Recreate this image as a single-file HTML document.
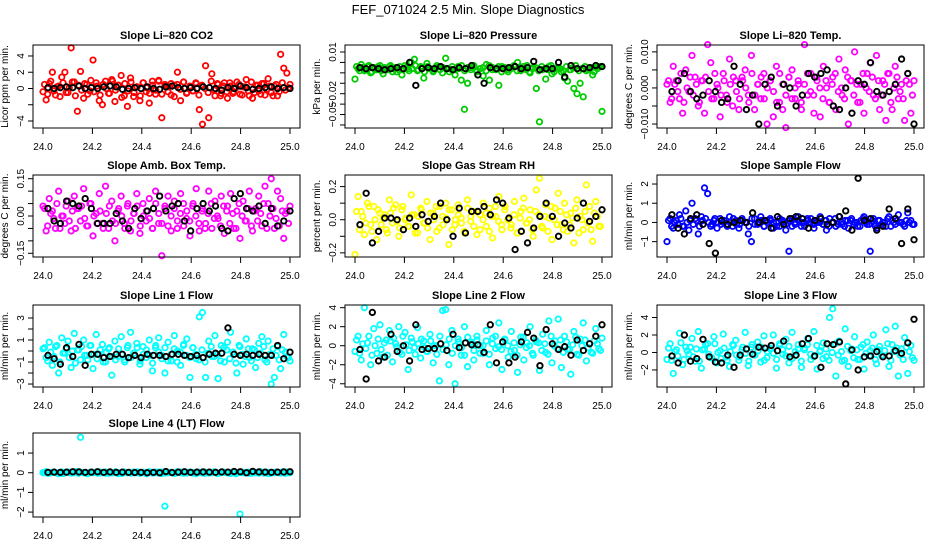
<!DOCTYPE html>
<html><head><meta charset="utf-8"><style>
body{margin:0;background:#fff;}
svg{display:block;font-family:"Liberation Sans",sans-serif;}
</style></head><body>
<svg id="chart" width="936" height="540" viewBox="0 0 936 540">
<rect width="936" height="540" fill="#fff"/>
<text x="468" y="14" text-anchor="middle" font-size="13">FEF_071024  2.5 Min. Slope Diagnostics</text>
</svg>
<script>
const xTickValues = [24.0, 24.2, 24.4, 24.6, 24.8, 25.0];
const xTickLabels = ["24.0", "24.2", "24.4", "24.6", "24.8", "25.0"];

const co2Color = [-0.4,-1.4,0.6,2.0,-0.8,0.3,1.4,2.0,-0.5,5.0,0.8,-2.8,2.1,-1.2,0.5,-0.3,3.5,0.7,-1.5,-2.0,0.9,-0.6,1.1,-1.6,0.4,1.6,-0.9,-2.2,1.3,-1.0,0.2,-1.5,0.7,-0.4,-1.8,0.9,-0.7,1.0,-3.6,0.5,0.2,-0.8,0.4,2.0,-1.5,0.8,-0.5,0.3,-0.3,0.6,-2.6,-4.4,2.8,-3.6,1.8,-0.9,0.5,-0.6,0.7,-1.2,0.3,-0.4,0.8,-0.7,0.2,1.1,-0.9,-1.2,0.4,-0.3,0.6,-0.8,1.2,-0.5,0.3,-0.9,4.2,2.5,1.9,0.5];
const co2Band = [0.5,-0.7,0.9,-0.3,0.2,-1.0,0.7,-0.5,0.1,0.8,-0.9,0.4,-0.2,0.6,-0.7,1.0,-0.4,0.3,-0.8,0.5,0.0,-0.6,0.9,-0.2,0.4,-1.1,0.6,-0.3,0.8,-0.5,0.2,-0.9,0.7,0.1,-0.6,0.4,-0.2,0.9,-0.7,0.3,-0.4,0.6,-1.0,0.5,-0.1,0.8,-0.6,0.2,-0.3,0.7,-0.8,0.4,0.0,-0.5,0.9,-0.2,0.6,-0.9,0.3,-0.4,0.7,-0.6,0.1,0.5,-0.8,0.2,-0.3,0.8,-0.5,0.4,-0.7,0.6,-0.1,0.3,-0.9,0.5,-0.4,0.7,-0.2,0.1];
const co2Black = [0.1,0.0,0.1,0.2,0.1,0.3,0.0,0.1,0.0,0.2,0.3,0.2,-0.1,0.0,0.1,0.0,0.2,0.0,-0.1,0.2,0.3,0.1,0.0,0.1,0.0,0.2,0.1,0.0,-0.2,0.1,0.0,0.3,0.1,-0.1,0.0,0.1,0.2,0.0,0.1,0.0];

const presColor = [-0.016,-0.006,-0.002,-0.008,-0.004,-0.010,-0.005,-0.007,-0.003,-0.011,-0.006,-0.004,-0.009,-0.005,-0.007,-0.012,-0.003,-0.006,0.000,0.003,-0.008,-0.004,-0.015,-0.001,-0.006,-0.009,-0.005,-0.004,-0.010,0.004,-0.006,-0.007,-0.012,-0.004,-0.017,-0.045,-0.020,-0.005,-0.003,-0.008,-0.006,-0.013,-0.002,-0.017,-0.005,-0.007,-0.022,-0.004,-0.006,-0.009,-0.005,-0.004,0.000,-0.008,-0.006,-0.003,-0.010,-0.005,-0.025,-0.057,-0.007,-0.016,-0.004,-0.011,-0.006,-0.005,-0.009,-0.015,-0.018,-0.007,-0.025,-0.030,-0.020,-0.033,-0.008,-0.006,-0.012,-0.005,-0.004,-0.047];
const presBand = [-0.004,-0.008,-0.005,-0.007,-0.003,-0.009,-0.006,-0.004,-0.008,-0.005,-0.007,-0.003,-0.006,-0.009,-0.004,-0.007,-0.005,-0.008,-0.006,-0.003,-0.007,-0.005,-0.009,-0.004,-0.006,-0.008,-0.003,-0.007,-0.005,-0.006,-0.009,-0.004,-0.007,-0.006,-0.003,-0.008,-0.005,-0.007,-0.004,-0.009,-0.006,-0.005,-0.008,-0.003,-0.007,-0.006,-0.004,-0.009,-0.005,-0.007,-0.006,-0.003,-0.008,-0.005,-0.004,-0.007,-0.009,-0.006,-0.005,-0.008,-0.004,-0.006,-0.007,-0.003,-0.009,-0.005,-0.006,-0.008,-0.004,-0.007,-0.005,-0.003,-0.008,-0.006,-0.004,-0.007,-0.005,-0.009,-0.006,-0.004];
const presBlack = [-0.005,-0.006,-0.005,-0.006,-0.007,-0.006,-0.005,-0.006,0.000,-0.022,-0.006,-0.005,-0.006,-0.004,-0.006,-0.007,-0.005,-0.006,-0.003,-0.012,-0.020,-0.005,-0.006,-0.006,-0.005,-0.004,-0.006,-0.005,0.001,-0.007,-0.006,-0.006,0.000,-0.014,-0.003,-0.006,-0.006,-0.005,-0.003,-0.004];

const tempColor = [0.001,-0.004,0.006,0.002,-0.003,-0.007,0.005,-0.001,0.009,0.003,-0.005,0.002,-0.007,0.012,0.007,-0.003,0.001,-0.008,0.004,-0.002,0.008,-0.005,0.002,-0.006,0.003,0.005,-0.002,0.009,-0.006,0.001,-0.003,0.004,-0.010,0.002,-0.008,0.006,-0.004,-0.006,-0.011,0.003,0.005,-0.003,0.001,-0.006,0.012,-0.002,0.004,-0.007,0.002,-0.008,0.006,0.000,-0.004,0.003,-0.006,0.008,-0.002,0.005,-0.010,0.002,0.010,-0.004,0.001,-0.007,0.004,0.007,-0.002,0.009,-0.006,0.002,-0.009,0.004,-0.006,0.006,-0.003,0.001,-0.009,0.004,-0.007,0.002];
const tempBand = [0.002,-0.003,0.001,-0.001,0.004,-0.004,0.000,0.003,-0.002,0.001,-0.004,0.002,0.003,-0.001,-0.003,0.004,0.000,-0.002,0.002,-0.004,0.001,0.003,-0.001,-0.003,0.002,0.000,-0.004,0.004,-0.002,0.001,0.003,-0.003,0.000,0.002,-0.001,-0.004,0.004,0.001,-0.002,0.003,-0.003,0.000,0.002,-0.004,0.001,0.004,-0.001,-0.002,0.003,0.000,-0.003,0.002,-0.004,0.001,0.004,-0.001,0.000,-0.003,0.003,0.002,-0.002,0.001,-0.004,0.004,0.000,-0.001,0.003,-0.003,0.002,-0.002,0.001,0.004,-0.004,0.000,0.003,-0.001,-0.003,0.002,0.001,-0.002];
const tempBlack = [-0.001,0.002,0.004,-0.001,-0.003,-0.002,0.002,-0.001,-0.004,-0.003,0.006,0.001,-0.006,-0.002,-0.010,0.001,0.003,-0.005,0.001,0.000,-0.005,-0.002,0.004,0.003,0.004,0.005,-0.005,-0.006,0.000,-0.007,0.002,0.001,0.007,-0.001,-0.002,-0.001,0.001,0.008,0.004,-0.010];

const boxColor = [0.04,-0.06,0.07,0.02,-0.05,0.10,0.00,-0.03,0.06,-0.06,0.08,0.03,-0.02,0.11,-0.04,0.05,-0.08,0.01,0.09,-0.03,0.12,-0.05,0.06,-0.10,0.02,0.08,-0.03,0.04,-0.06,0.01,0.09,-0.07,0.05,-0.02,0.07,-0.05,0.10,-0.03,-0.16,0.03,0.08,-0.06,0.06,-0.02,0.09,-0.04,0.02,-0.08,0.05,0.11,-0.06,0.03,-0.03,0.10,-0.05,0.06,-0.01,0.08,-0.07,0.04,0.09,-0.05,0.02,-0.09,0.06,-0.02,0.10,-0.06,0.03,0.08,-0.04,0.12,0.05,0.15,-0.05,0.10,0.07,-0.09,0.02,0.04];
const boxBand = [0.03,-0.04,0.01,-0.01,0.05,-0.05,0.00,0.04,-0.02,0.02,-0.05,0.03,0.04,-0.01,-0.04,0.05,0.00,-0.03,0.02,-0.05,0.01,0.04,-0.02,-0.03,0.03,0.00,-0.05,0.05,-0.02,0.01,0.04,-0.04,0.00,0.02,-0.01,-0.05,0.05,0.01,-0.03,0.04,-0.04,0.00,0.03,-0.05,0.01,0.05,-0.01,-0.02,0.04,0.00,-0.03,0.02,-0.05,0.01,0.05,-0.01,0.00,-0.04,0.04,0.02,-0.03,0.01,-0.05,0.05,0.00,-0.02,0.03,-0.04,0.02,-0.02,0.01,0.05,-0.05,0.00,0.03,-0.01,-0.04,0.02,0.01,-0.03];
const boxBlack = [0.03,-0.02,-0.03,0.06,0.05,0.04,0.07,0.03,-0.03,-0.03,-0.03,0.01,-0.02,-0.05,0.03,-0.01,0.02,0.03,0.08,0.02,0.04,0.05,-0.02,-0.06,0.03,0.05,0.02,0.04,-0.05,-0.06,0.07,0.09,0.03,0.02,0.04,-0.03,0.03,-0.04,-0.02,0.02];

const rhColor = [-0.21,0.14,0.05,-0.09,0.10,-0.03,0.08,-0.12,0.04,0.01,-0.06,0.12,-0.02,0.09,-0.10,0.06,0.00,-0.04,0.15,0.03,-0.08,0.07,-0.02,0.11,-0.12,0.04,0.08,-0.05,0.02,0.10,-0.15,0.06,-0.03,0.09,0.01,-0.07,0.12,-0.01,0.05,-0.09,0.03,0.10,-0.04,0.07,-0.11,0.02,0.14,-0.06,0.08,0.00,-0.03,0.11,-0.08,0.05,0.13,-0.02,0.06,-0.10,0.18,0.25,-0.05,0.09,0.01,-0.12,0.07,0.16,-0.03,0.10,-0.07,0.04,-0.14,0.12,0.02,-0.06,0.21,0.08,-0.13,0.11,-0.04,0.06];
const rhBand = [0.05,-0.06,0.02,-0.02,0.08,-0.07,0.00,0.06,-0.03,0.03,-0.08,0.04,0.07,-0.01,-0.05,0.08,0.01,-0.04,0.03,-0.08,0.02,0.06,-0.02,-0.05,0.04,0.00,-0.07,0.08,-0.03,0.01,0.06,-0.06,0.00,0.03,-0.02,-0.08,0.07,0.02,-0.04,0.05,-0.06,0.00,0.04,-0.07,0.02,0.08,-0.01,-0.03,0.06,0.00,-0.05,0.03,-0.08,0.01,0.07,-0.02,0.00,-0.06,0.05,0.03,-0.04,0.02,-0.07,0.08,0.00,-0.03,0.05,-0.06,0.03,-0.03,0.01,0.07,-0.08,0.00,0.05,-0.02,-0.06,0.04,0.02,-0.04];
const rhBlack = [-0.03,0.16,-0.14,-0.07,0.01,0.01,0.00,-0.06,0.01,-0.04,0.03,-0.01,0.02,0.10,0.00,-0.10,0.07,-0.08,0.05,0.05,0.08,0.03,0.12,0.10,0.01,-0.18,-0.07,-0.14,-0.05,0.02,0.10,0.02,-0.10,-0.02,-0.05,0.01,0.10,-0.01,0.02,0.06];

const sampColor = [-1.0,0.2,-0.3,0.1,0.4,-0.2,0.6,-0.4,1.0,0.2,-0.6,0.3,1.8,1.5,-0.2,0.1,-0.3,0.2,0.0,-0.1,0.3,-0.2,0.1,-0.3,0.2,0.0,-0.6,-1.0,0.2,-0.1,0.3,-0.2,0.1,0.2,-0.3,0.0,-0.2,0.1,-0.4,-1.5,0.2,-0.1,0.3,0.0,-0.2,0.1,0.2,-0.3,0.0,0.3,-0.1,-0.4,0.2,0.0,-0.2,0.3,-0.1,0.1,-0.3,0.2,0.0,-0.2,0.1,0.3,-0.1,-1.5,0.2,-0.3,0.1,0.0,-0.2,0.3,0.1,-0.1,0.4,0.0,-0.2,0.5,0.1,-0.1];
const sampBand = [0.1,-0.2,0.0,-0.1,0.2,-0.2,0.0,0.1,-0.1,0.1,-0.2,0.1,0.2,0.0,-0.1,0.2,0.0,-0.1,0.1,-0.2,0.0,0.2,-0.1,-0.1,0.1,0.0,-0.2,0.2,-0.1,0.0,0.1,-0.2,0.0,0.1,0.0,-0.2,0.2,0.0,-0.1,0.1,-0.2,0.0,0.1,-0.2,0.0,0.2,0.0,-0.1,0.1,0.0,-0.1,0.1,-0.2,0.0,0.2,-0.1,0.0,-0.2,0.1,0.1,-0.1,0.0,-0.2,0.2,0.0,-0.1,0.1,-0.2,0.1,-0.1,0.0,0.2,-0.2,0.0,0.1,0.0,-0.1,0.1,0.0,-0.1];
const sampBlack = [0.4,-0.3,-0.6,0.2,0.4,-0.1,-1.1,-1.6,0.1,-0.1,0.0,0.1,0.0,0.5,0.0,0.1,-0.3,0.3,-0.1,0.2,0.3,0.2,-0.3,0.1,0.2,-0.1,0.0,0.3,0.6,-0.4,2.3,0.1,0.2,-0.4,-0.2,0.7,0.2,-1.1,0.7,-0.9];

const l1Color = [0.2,-0.6,0.8,-1.3,0.4,-2.0,1.2,-0.2,0.9,-1.5,1.6,0.1,-0.8,1.0,-0.4,0.5,-1.6,1.5,-0.3,0.6,-1.0,0.2,-2.2,0.9,-0.5,1.3,-0.8,0.3,1.7,-0.2,0.7,-1.2,0.4,-0.6,1.0,-1.8,0.3,1.2,-0.4,-2.0,0.8,-0.9,1.4,0.0,-1.3,0.6,1.1,-2.4,0.3,-0.7,3.1,3.5,-2.4,0.9,-0.5,1.4,-2.5,0.5,-1.0,0.8,1.7,-0.3,-2.0,0.4,-1.2,1.1,-0.6,0.2,-1.5,0.7,1.3,-0.8,0.9,-3.0,-2.4,0.4,-1.6,1.5,-0.5,-0.9];
const l1Band = [0.3,-0.9,-0.1,-0.5,0.5,-1.0,-0.2,0.2,-0.6,0.0,-1.1,0.1,0.4,-0.4,-0.8,0.5,-0.3,-0.7,0.1,-1.0,-0.1,0.3,-0.5,-0.8,0.2,-0.3,-1.0,0.5,-0.6,-0.2,0.3,-0.9,-0.3,0.1,-0.4,-1.1,0.5,-0.1,-0.7,0.3,-0.9,-0.3,0.2,-1.0,-0.1,0.5,-0.4,-0.6,0.3,-0.3,-0.8,0.1,-1.0,-0.2,0.4,-0.5,-0.3,-0.9,0.3,0.1,-0.7,-0.1,-1.1,0.5,-0.3,-0.5,0.2,-0.9,0.1,-0.6,-0.2,0.4,-1.0,-0.3,0.2,-0.4,-0.8,0.1,-0.1,-0.6];
const l1Black = [-0.4,-0.7,-1.2,0.3,-0.5,0.6,-1.3,-0.3,-0.3,-0.6,-0.5,-0.3,-0.3,-0.6,-0.4,-0.6,-0.3,-0.4,-0.4,-0.5,-0.3,-0.3,-0.4,-0.5,-0.4,-0.6,-0.3,-0.2,-0.2,2.1,-0.3,-0.4,-0.3,-0.4,-0.3,-0.4,-0.4,0.5,-0.7,-0.1];

const l2Color = [-0.6,1.0,-1.5,4.0,0.3,-2.0,1.8,-0.8,2.2,-1.2,0.6,1.6,-1.7,0.2,2.0,-0.9,1.4,-2.5,0.8,-0.2,1.9,-1.3,0.5,-0.6,1.2,-1.8,0.0,-3.7,3.7,3.8,-2.0,1.6,-4.0,0.7,-1.0,2.0,-2.2,0.4,-1.5,1.0,0.0,-0.8,1.6,-2.0,0.8,-0.3,2.4,-2.5,0.6,-1.2,1.5,-0.5,-2.8,0.9,-1.5,0.3,2.0,-1.0,0.4,-2.6,1.2,-0.7,2.6,-1.8,0.5,2.8,-2.3,1.0,-0.4,-3.0,1.5,-0.9,0.7,2.4,-1.6,0.2,-0.8,1.8,-0.3,0.8];
const l2Band = [0.6,-0.8,0.2,-0.3,1.0,-1.0,0.0,0.7,-0.4,0.3,-1.0,0.5,0.8,-0.1,-0.7,1.0,0.1,-0.5,0.4,-0.9,0.2,0.7,-0.2,-0.6,0.5,0.0,-0.9,1.0,-0.4,0.1,0.7,-0.8,0.0,0.4,-0.2,-1.0,0.9,0.2,-0.5,0.6,-0.8,0.0,0.5,-0.9,0.2,1.0,-0.1,-0.4,0.7,0.0,-0.6,0.3,-1.0,0.1,0.9,-0.2,0.0,-0.8,0.6,0.3,-0.5,0.2,-0.9,1.0,0.0,-0.3,0.6,-0.7,0.4,-0.4,0.1,0.9,-1.0,0.0,0.6,-0.2,-0.7,0.5,0.2,-0.5];
const l2Black = [-0.4,-3.5,3.5,-1.6,-1.2,1.2,-0.6,0.0,-1.6,2.2,-0.4,-0.3,-0.3,0.2,-0.5,1.2,-0.2,0.3,0.1,0.1,-0.7,2.2,-1.8,0.4,-1.8,-1.2,0.4,1.4,0.8,-2.1,1.7,0.2,-0.4,-0.1,-1.0,0.6,-0.5,0.2,1.0,2.2];

const l3Color = [-0.8,1.0,-2.4,0.3,2.2,-1.4,0.6,-0.2,1.6,-1.0,2.4,-1.8,0.4,1.0,-0.6,1.8,-1.2,0.2,2.1,-0.5,-1.6,0.9,1.4,-0.9,0.3,2.3,-1.5,0.6,-0.3,1.2,-1.1,1.9,-0.6,0.4,2.0,-1.8,0.8,-0.2,1.5,-1.2,2.3,-0.4,0.9,-1.7,0.5,1.6,-0.8,2.4,-1.9,0.2,1.1,-0.5,4.0,5.0,-2.7,1.3,-1.0,2.7,-1.6,0.4,1.8,-0.8,0.6,-1.9,1.2,0.2,2.0,-1.3,0.7,-0.4,2.6,-1.6,0.9,3.0,-2.7,0.4,1.7,-2.4,0.8,-0.9];
const l3Band = [0.5,-0.9,0.1,-0.4,1.1,-0.8,0.2,0.6,-0.5,0.4,-1.0,0.3,0.9,-0.2,-0.6,1.0,0.0,-0.7,0.5,-0.9,0.1,0.8,-0.3,-0.5,0.6,-0.1,-1.0,0.9,-0.3,0.2,0.6,-0.9,0.1,0.5,-0.1,-0.8,1.0,0.3,-0.4,0.7,-0.7,0.1,0.4,-1.0,0.3,0.9,-0.2,-0.5,0.8,0.1,-0.7,0.4,-0.9,0.0,1.0,-0.3,0.1,-0.9,0.7,0.2,-0.6,0.3,-0.8,0.9,-0.1,-0.4,0.5,-0.8,0.3,-0.3,0.2,1.0,-0.9,0.1,0.5,-0.3,-0.8,0.6,0.1,-0.6];
const l3Black = [-0.4,-1.2,2.0,-1.0,-0.7,1.5,-0.5,-1.1,-1.2,-0.3,-1.7,-0.3,0.4,-0.2,0.6,0.5,0.8,0.2,1.3,-0.5,-0.3,1.0,1.6,-0.4,-1.7,1.0,0.9,1.2,-3.6,0.3,-2.0,-0.5,-0.4,0.1,-0.5,-0.4,0.2,-0.1,1.1,3.8];

const l4Color = [0.0,0.05,-0.03,0.02,0.0,-0.05,0.04,0.0,0.03,-0.02,0.0,0.05,1.8,0.0,-0.04,0.02,0.0,0.03,-0.02,0.0,0.04,-0.03,0.0,0.02,-0.05,0.0,0.03,0.0,-0.02,0.04,0.0,-0.03,0.02,0.0,0.05,-0.02,0.0,0.03,-0.04,-1.7,0.0,0.02,-0.03,0.0,0.04,0.0,-0.02,0.03,0.0,-0.05,0.02,0.0,0.03,-0.02,0.0,0.04,-0.03,0.0,0.02,0.0,-0.04,0.03,0.0,-2.1,0.02,0.0,-0.03,0.04,0.0,-0.02,0.03,0.0,-0.04,0.02,0.0,0.03,-0.02,0.0,0.04,0.0];
const l4Band = [0.02,-0.03,0.0,0.04,-0.02,0.01,-0.04,0.03,0.0,-0.01,0.05,-0.03,0.02,0.0,-0.05,0.03,0.01,-0.02,0.04,0.0,-0.03,0.02,-0.01,0.05,0.0,-0.04,0.03,0.01,-0.02,0.0,0.04,-0.03,0.02,-0.05,0.01,0.0,0.03,-0.02,0.04,-0.01,0.0,0.02,-0.04,0.05,0.0,-0.03,0.01,0.03,-0.02,0.0,0.04,-0.01,-0.03,0.02,0.0,0.05,-0.04,0.01,0.03,0.0,-0.02,0.04,-0.05,0.02,0.0,-0.01,0.03,-0.03,0.01,0.0,0.05,-0.02,0.02,-0.04,0.0,0.03,-0.01,0.04,-0.03,0.0];
const l4Black = [0.02,0.03,0.02,0.03,0.05,0.04,0.02,0.03,0.05,0.02,0.04,0.02,0.03,0.02,0.01,0.02,0.00,0.02,0.00,0.06,0.01,0.03,0.05,0.02,0.03,0.04,0.03,0.02,0.04,0.03,0.06,0.05,0.00,0.07,0.04,0.03,0.02,0.03,0.04,0.05];

const panels = [
 {name:"co2", col:0,row:0,title:"Slope Li\u2013820 CO2",ylab:"Licor ppm per min.",ymin:-4.86,ymax:5.35,ticks:[-4,-2,0,2,4],labs:["\u22124","","0","2","4"],color:"#ff0000",cv:co2Color,dv:co2Band,bv:co2Black},
 {name:"pressure", col:1,row:0,title:"Slope Li\u2013820 Pressure",ylab:"kPa per min.",ymin:-0.0629,ymax:0.0167,ticks:[-0.06,-0.05,-0.04,-0.03,-0.02,-0.01,0,0.01],labs:["","\u22120.05","","\u22120.02","","","","0.01"],color:"#00cc00",cv:presColor,dv:presBand,bv:presBlack},
 {name:"temp", col:2,row:0,title:"Slope Li\u2013820 Temp.",ylab:"degrees C per min.",ymin:-0.0111,ymax:0.0119,ticks:[-0.01,-0.005,0,0.005,0.01],labs:["\u22120.010","","0.000","","0.010"],color:"#ff00ff",cv:tempColor,dv:tempBand,bv:tempBlack},
 {name:"amb-box-temp", col:0,row:1,title:"Slope Amb. Box Temp.",ylab:"degrees C per min.",ymin:-0.165,ymax:0.165,ticks:[-0.15,-0.1,-0.05,0,0.05,0.1,0.15],labs:["\u22120.15","","","0.00","","","0.15"],color:"#ff00ff",cv:boxColor,dv:boxBand,bv:boxBlack},
 {name:"gas-stream-rh", col:1,row:1,title:"Slope Gas Stream RH",ylab:"percent per min.",ymin:-0.225,ymax:0.27,ticks:[-0.2,-0.1,0,0.1,0.2],labs:["\u22120.2","","0.0","","0.2"],color:"#ffff00",cv:rhColor,dv:rhBand,bv:rhBlack},
 {name:"sample-flow", col:2,row:1,title:"Slope Sample Flow",ylab:"ml/min per min.",ymin:-1.8,ymax:2.47,ticks:[-1,0,1,2],labs:["\u22121","0","1","2"],color:"#0000ff",cv:sampColor,dv:sampBand,bv:sampBlack},
 {name:"line1-flow", col:0,row:2,title:"Slope Line 1 Flow",ylab:"ml/min per min.",ymin:-3.27,ymax:4.18,ticks:[-3,-2,-1,0,1,2,3],labs:["\u22123","","\u22121","","1","","3"],color:"#00ffff",cv:l1Color,dv:l1Band,bv:l1Black},
 {name:"line2-flow", col:1,row:2,title:"Slope Line 2 Flow",ylab:"ml/min per min.",ymin:-4.34,ymax:4.28,ticks:[-4,-2,0,2,4],labs:["\u22124","\u22122","0","2","4"],color:"#00ffff",cv:l2Color,dv:l2Band,bv:l2Black},
 {name:"line3-flow", col:2,row:2,title:"Slope Line 3 Flow",ylab:"ml/min per min.",ymin:-3.95,ymax:5.43,ticks:[-2,0,2,4],labs:["\u22122","0","2","4"],color:"#00ffff",cv:l3Color,dv:l3Band,bv:l3Black},
 {name:"line4-flow", col:0,row:3,title:"Slope Line 4 (LT) Flow",ylab:"ml/min per min.",ymin:-2.25,ymax:2.02,ticks:[-2,-1,0,1],labs:["\u22122","\u22121","0","1"],color:"#00ffff",cv:l4Color,dv:l4Band,bv:l4Black}
];

const NS="http://www.w3.org/2000/svg";
const svg=document.getElementById('chart');
const colLeft=[33,345,657], boxW=267;
const rowTop=[45,175,305,433], rowBot=[128,257,387,517];
function mk(tag,attrs,parent){const e=document.createElementNS(NS,tag);for(const k in attrs)e.setAttribute(k,attrs[k]);parent.appendChild(e);return e;}

panels.forEach(p=>{
  const L=colLeft[p.col], R=L+boxW, T=rowTop[p.row], B=rowBot[p.row];
  const xs=v=>(L+10)+(v-24)*(R-L-20);
  const ys=v=>B-(v-p.ymin)/(p.ymax-p.ymin)*(B-T);
  const g=mk('g',{},svg);
  
  
  const t=mk('text',{x:(L+R)/2,y:T-6,'text-anchor':'middle','font-size':11,'font-weight':'bold'},g);
  t.textContent=p.title;
  
  
  const cg=mk('g',{fill:'none',stroke:p.color,'stroke-width':1.8},g);
  
  
  p.dv.forEach((v,i)=>{
    const c=mk('circle',{cx:xs(24+(i+0.5)/p.dv.length),cy:ys(v),r:2.7},cg);
    
    
  });
  p.cv.forEach((v,i)=>{
    const c=mk('circle',{cx:xs(24+i/(p.cv.length-1)),cy:ys(v),r:2.7},cg);
    
    
  });
  const bg=mk('g',{fill:'none',stroke:'#000','stroke-width':1.9},g);
  
  
  p.bv.forEach((v,i)=>{
    const c=mk('circle',{cx:xs(24.02+0.98*i/(p.bv.length-1)),cy:ys(v),r:2.7},bg);
    
    
  });
  const box=mk('rect',{x:L,y:T,width:R-L,height:B-T,fill:'none',stroke:'#000','stroke-width':1},g);
  
  
  const xa=mk('g',{},g);
  
  
  xTickValues.forEach((v,i)=>{
    const x=xs(v);
    mk('line',{x1:x,x2:x,y1:B,y2:B+6,stroke:'#000'},xa);
    const tl=mk('text',{x:x,y:B+22,'text-anchor':'middle','font-size':10},xa);
    tl.textContent=xTickLabels[i];
  });
  const ya=mk('g',{},g);
  
  
  p.ticks.forEach((v,i)=>{
    const y=ys(v);
    mk('line',{x1:L-5,x2:L,y1:y,y2:y,stroke:'#000'},ya);
    if(p.labs[i]){
      const tl=mk('text',{x:L-9,y:y,'text-anchor':'middle','font-size':10,transform:`rotate(-90 ${L-9} ${y})`},ya);
      tl.textContent=p.labs[i];
    }
  });
  const cy=(T+B)/2;
  const yl=mk('text',{x:L-25,y:cy,'text-anchor':'middle','font-size':10,transform:`rotate(-90 ${L-25} ${cy})`},g);
  yl.textContent=p.ylab;
  
  
});
</script>
</body></html>
